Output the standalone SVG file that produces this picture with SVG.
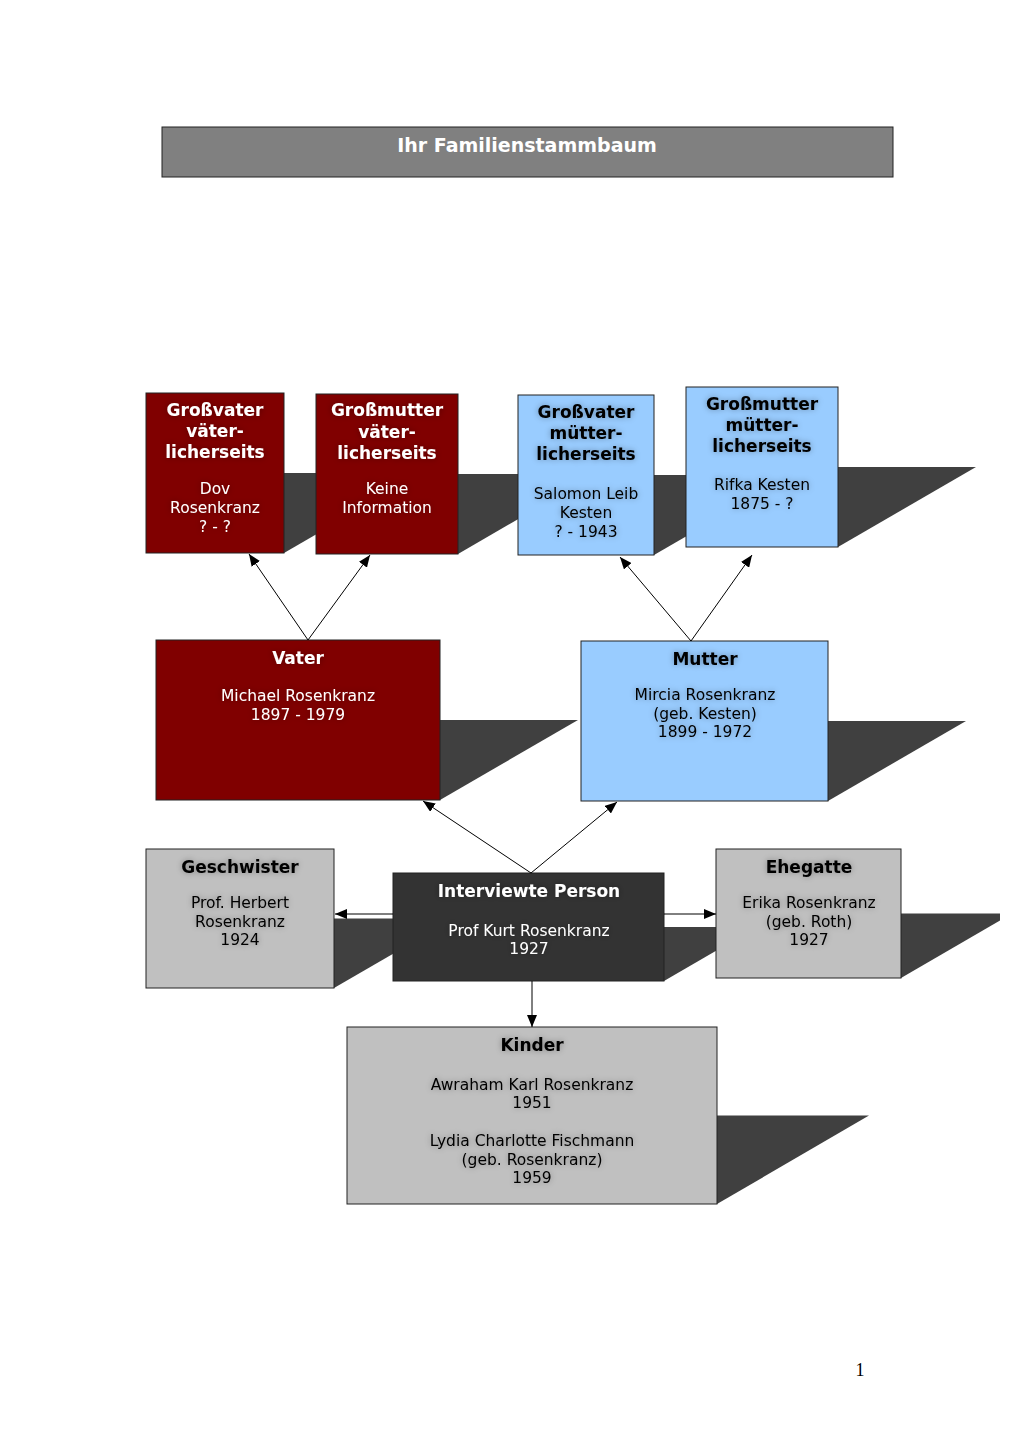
<svg xmlns="http://www.w3.org/2000/svg" width="1020" height="1443" viewBox="0 0 1020 1443">
<defs>
<style>
.bx{stroke:#222;stroke-width:1}
.red{fill:#800000}
.blue{fill:#99CCFF}
.gray{fill:#C0C0C0}
.dark{fill:#333333}
.sh{fill:#404040}
text{font-family:"DejaVu Sans","Verdana",sans-serif;text-anchor:middle}
.t{font-size:17px;font-weight:bold}
.b{font-size:15.5px}
.w{fill:#ffffff}
.k{fill:#000000}
.con{stroke:#000;stroke-width:1;fill:none;marker-end:url(#ah)}
</style>
<marker id="ah" markerUnits="userSpaceOnUse" markerWidth="12" markerHeight="10" refX="12" refY="5" orient="auto">
<path d="M0,0 L12,5 L0,10 z" fill="#000"/>
</marker>
<filter id="glow" x="-20%" y="-30%" width="140%" height="160%">
<feGaussianBlur in="SourceAlpha" stdDeviation="3" result="b"/>
<feComponentTransfer in="b" result="c"><feFuncA type="linear" slope="0.35"/></feComponentTransfer>
<feMerge><feMergeNode in="c"/><feMergeNode in="SourceGraphic"/></feMerge>
</filter>
</defs>
<rect width="1020" height="1443" fill="#ffffff"/>

<g id="title">
<rect x="162" y="127" width="731" height="50" fill="#808080" class="bx"/>
<text x="527" y="152" font-size="19" font-weight="bold" class="w">Ihr Familienstammbaum</text>
</g>

<g id="gv-vater">
<polygon class="sh" points="284,473 422,473 284,553"/>
<rect x="146" y="393" width="138" height="160" class="bx red"/>
<g filter="url(#glow)">
<text x="215" y="416" class="t w">Großvater</text>
<text x="215" y="437" class="t w">väter-</text>
<text x="215" y="458" class="t w">licherseits</text>
<text x="215" y="494" class="b w">Dov</text>
<text x="215" y="513" class="b w">Rosenkranz</text>
<text x="215" y="532" class="b w">? - ?</text>
</g>
</g>

<g id="gm-vater">
<polygon class="sh" points="458,474 596,474 458,554"/>
<rect x="316" y="394" width="142" height="160" class="bx red"/>
<g filter="url(#glow)">
<text x="387" y="416" class="t w">Großmutter</text>
<text x="387" y="438" class="t w">väter-</text>
<text x="387" y="459" class="t w">licherseits</text>
<text x="387" y="494" class="b w">Keine</text>
<text x="387" y="513" class="b w">Information</text>
</g>
</g>

<g id="gv-mutter">
<polygon class="sh" points="654,475 792,475 654,555"/>
<rect x="518" y="395" width="136" height="160" class="bx blue"/>
<g filter="url(#glow)">
<text x="586" y="418" class="t k">Großvater</text>
<text x="586" y="439" class="t k">mütter-</text>
<text x="586" y="460" class="t k">licherseits</text>
<text x="586" y="499" class="b k">Salomon Leib</text>
<text x="586" y="518" class="b k">Kesten</text>
<text x="586" y="537" class="b k">? - 1943</text>
</g>
</g>

<g id="gm-mutter">
<polygon class="sh" points="838,467 976,467 838,547"/>
<rect x="686" y="387" width="152" height="160" class="bx blue"/>
<g filter="url(#glow)">
<text x="762" y="410" class="t k">Großmutter</text>
<text x="762" y="431" class="t k">mütter-</text>
<text x="762" y="452" class="t k">licherseits</text>
<text x="762" y="490" class="b k">Rifka Kesten</text>
<text x="762" y="509" class="b k">1875 - ?</text>
</g>
</g>

<g id="vater">
<polygon class="sh" points="440,720 578,720 440,800"/>
<rect x="156" y="640" width="284" height="160" class="bx red"/>
<g filter="url(#glow)">
<text x="298" y="664" class="t w">Vater</text>
<text x="298" y="701" class="b w">Michael Rosenkranz</text>
<text x="298" y="720" class="b w">1897 - 1979</text>
</g>
</g>

<g id="mutter">
<polygon class="sh" points="828,721 966,721 828,801"/>
<rect x="581" y="641" width="247" height="160" class="bx blue"/>
<g filter="url(#glow)">
<text x="705" y="665" class="t k">Mutter</text>
<text x="705" y="700" class="b k">Mircia Rosenkranz</text>
<text x="705" y="719" class="b k">(geb. Kesten)</text>
<text x="705" y="737" class="b k">1899 - 1972</text>
</g>
</g>

<g id="geschwister">
<polygon class="sh" points="334,918.5 454,918.5 334,988"/>
<rect x="146" y="849" width="188" height="139" class="bx gray"/>
<g filter="url(#glow)">
<text x="240" y="873" class="t k">Geschwister</text>
<text x="240" y="908" class="b k">Prof. Herbert</text>
<text x="240" y="927" class="b k">Rosenkranz</text>
<text x="240" y="945" class="b k">1924</text>
</g>
</g>

<g id="interviewte">
<polygon class="sh" points="664,927 757,927 664,981"/>
<rect x="393" y="873" width="271" height="108" class="bx dark"/>
<g filter="url(#glow)">
<text x="529" y="897" class="t w">Interviewte Person</text>
<text x="529" y="936" class="b w">Prof Kurt Rosenkranz</text>
<text x="529" y="954" class="b w">1927</text>
</g>
</g>

<g id="ehegatte">
<polygon class="sh" points="901,913.5 1000,913.5 1000,920.5 901,978"/>
<rect x="716" y="849" width="185" height="129" class="bx gray"/>
<g filter="url(#glow)">
<text x="809" y="873" class="t k">Ehegatte</text>
<text x="809" y="908" class="b k">Erika Rosenkranz</text>
<text x="809" y="927" class="b k">(geb. Roth)</text>
<text x="809" y="945" class="b k">1927</text>
</g>
</g>

<g id="kinder">
<polygon class="sh" points="717,1115.5 869,1115.5 717,1204"/>
<rect x="347" y="1027" width="370" height="177" class="bx gray"/>
<g filter="url(#glow)">
<text x="532" y="1051" class="t k">Kinder</text>
<text x="532" y="1090" class="b k">Awraham Karl Rosenkranz</text>
<text x="532" y="1108" class="b k">1951</text>
<text x="532" y="1146" class="b k">Lydia Charlotte Fischmann</text>
<text x="532" y="1165" class="b k">(geb. Rosenkranz)</text>
<text x="532" y="1183" class="b k">1959</text>
</g>
</g>

<g id="connectors">
<line class="con" x1="308" y1="640" x2="249" y2="554"/>
<line class="con" x1="308" y1="640" x2="370" y2="555"/>
<line class="con" x1="691" y1="641" x2="620" y2="557"/>
<line class="con" x1="691" y1="641" x2="752" y2="555"/>
<line class="con" x1="531" y1="873" x2="423" y2="801"/>
<line class="con" x1="531" y1="873" x2="617" y2="802"/>
<line class="con" x1="393" y1="914" x2="335" y2="914"/>
<line class="con" x1="664" y1="914" x2="716" y2="914"/>
<line class="con" x1="532" y1="981" x2="532" y2="1027"/>
</g>

<text x="860" y="1376" font-size="18" style="font-family:'Liberation Serif',serif" fill="#000">1</text>
</svg>
